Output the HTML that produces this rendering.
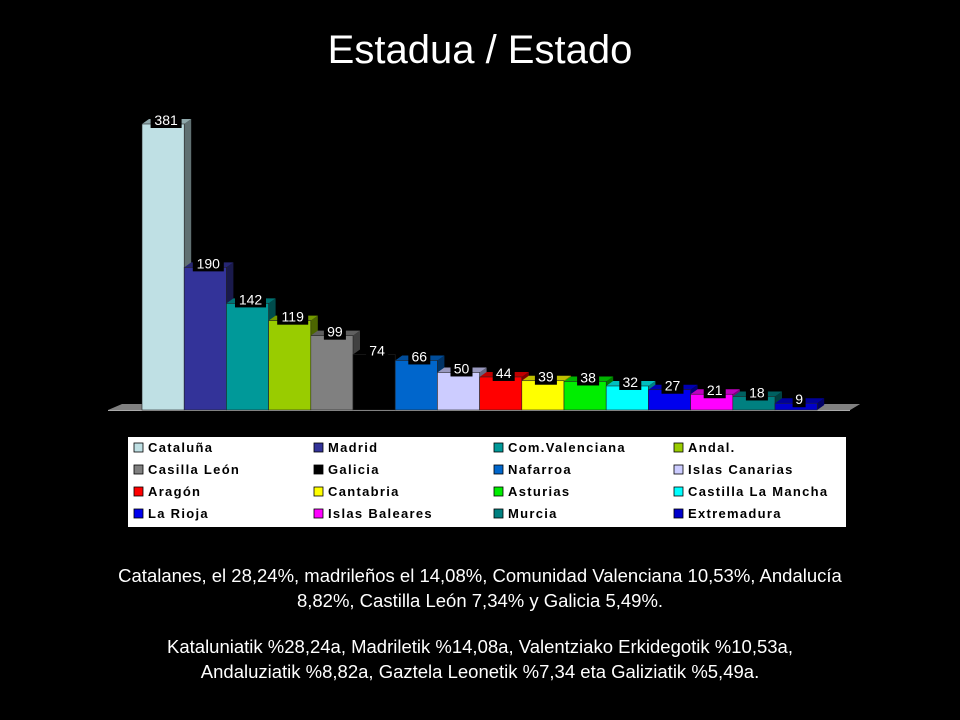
<!DOCTYPE html>
<html><head><meta charset="utf-8"><style>
body{margin:0;background:#000;width:960px;height:720px;overflow:hidden;font-family:"Liberation Sans",sans-serif;color:#fff}
#title{position:absolute;top:28px;left:0;width:960px;text-align:center;font-size:40px}
.p{position:absolute;left:0;width:960px;text-align:center;font-size:18.5px;line-height:25px}
</style></head><body>
<div id="title">Estadua / Estado</div>
<svg id="chart" width="960" height="540" style="position:absolute;left:0;top:0"></svg>
<div class="p" style="top:563px">Catalanes, el 28,24%, madrileños el 14,08%, Comunidad Valenciana 10,53%, Andalucía<br>8,82%, Castilla León 7,34% y Galicia 5,49%.</div>
<div class="p" style="top:634px">Kataluniatik %28,24a, Madriletik %14,08a, Valentziako Erkidegotik %10,53a,<br>Andaluziatik %8,82a, Gaztela Leonetik %7,34 eta Galiziatik %5,49a.</div>
<script>
const categories=["Cataluña","Madrid","Com.Valenciana","Andal.","Casilla León","Galicia","Nafarroa","Islas Canarias","Aragón","Cantabria","Asturias","Castilla La Mancha","La Rioja","Islas Baleares","Murcia","Extremadura"];
const values=[381,190,142,119,99,74,66,50,44,39,38,32,27,21,18,9];
const colors=["#bfe0e4","#333399","#009999","#99cc00","#808080","#000000","#0066cc","#ccccff","#ff0000","#ffff00","#00ee00","#00ffff","#0000ee","#ff00ff","#008080","#0000cc"];
const NS="http://www.w3.org/2000/svg";
const svg=document.getElementById('chart');
const base=410,x0=142,bw=42.2,scale=286/381,dx=7,dy=5;
const xs=i=>x0+i*bw, ys=v=>base-v*scale;
function mk(t,a){const e=document.createElementNS(NS,t);for(const k in a)e.setAttribute(k,a[k]);svg.appendChild(e);return e;}
const floor=mk('polygon',{points:`108,410 ${x0-0},410 ${x0},404 ${860},404 850,410 108,410`,fill:'#808080'});


mk('polygon',{points:`108,410 122,404 860,404 850,410`,fill:'#808080'});
mk('line',{x1:108,y1:410.5,x2:850,y2:410.5,stroke:'#aaa','stroke-width':1});
values.forEach((v,i)=>{
 const x=xs(i),y=ys(v);
 const g=document.createElementNS(NS,'g');svg.appendChild(g);
 
 
 const c=colors[i];
 const side=document.createElementNS(NS,'polygon');
 side.setAttribute('points',`${x+bw},${y} ${x+bw+dx},${y-dy} ${x+bw+dx},${base-dy} ${x+bw},${base}`);
 side.setAttribute('fill',c);side.setAttribute('filter','brightness(0.5)');side.setAttribute('style','filter:brightness(0.5)');g.appendChild(side);
 const top=document.createElementNS(NS,'polygon');
 top.setAttribute('points',`${x},${y} ${x+dx},${y-dy} ${x+bw+dx},${y-dy} ${x+bw},${y}`);
 top.setAttribute('fill',c);top.setAttribute('style','filter:brightness(0.75)');g.appendChild(top);
 const r=document.createElementNS(NS,'rect');
 r.setAttribute('x',x);r.setAttribute('y',y);r.setAttribute('width',bw);r.setAttribute('height',base-y);r.setAttribute('fill',c);
 r.setAttribute('stroke','#222');r.setAttribute('stroke-width','0.6');g.appendChild(r);
 const t=String(v),w=t.length*9+4;
 const lb=mk('rect',{x:x+bw/2+3-w/2,y:y-12,width:w,height:16,fill:'#000'});
 
 
 const tx=mk('text',{x:x+bw/2+3,y:y+1,'text-anchor':'middle','font-size':14,fill:'#fff','font-family':'Liberation Sans, sans-serif'});
 tx.textContent=t;
 
 
});
const lg=mk('rect',{x:128,y:437,width:718,height:90,fill:'#fff'});


categories.forEach((n,i)=>{
 const col=i%4,row=Math.floor(i/4);
 const x=134+col*180,y=442+row*22;
 mk('rect',{x:x,y:y+1,width:9,height:9,fill:colors[i],stroke:'#000','stroke-width':0.8});
 const t=mk('text',{x:x+14,y:y+10,'font-size':13,'font-weight':'bold','letter-spacing':'1.3',fill:'#000','font-family':'Liberation Sans, sans-serif'});
 t.textContent=n;
 
 
});
</script>
</body></html>
